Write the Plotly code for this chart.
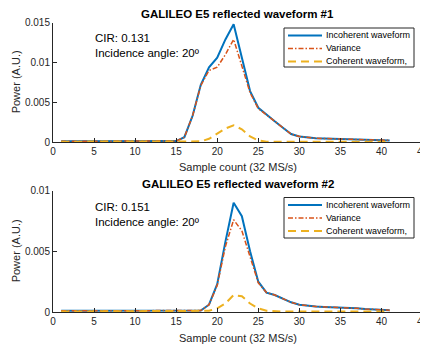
import plotly.graph_objects as go

# The page body has an 8px margin, so the figure covers window pixels 8..428 x 8..345
OFF = 8
W, H = 428 - OFF, 345 - OFF

samples = list(range(1, 42))

# Waveform #1
incoh1 = [0.0001]*14 + [0.00012, 0.0006, 0.0033, 0.0072, 0.0094, 0.0106, 0.0129, 0.0148, 0.0107, 0.0064,
          0.0043, 0.0034, 0.0026, 0.0018, 0.0010, 0.0007, 0.00055, 0.00048, 0.00044, 0.0004, 0.00038,
          0.00035, 0.00032, 0.0003, 0.00027, 0.00024, 0.0002]
var1 = [0.0001]*14 + [0.00012, 0.0006, 0.0033, 0.0071, 0.0090, 0.0094, 0.0110, 0.0129, 0.0097, 0.0062,
        0.0042, 0.0034, 0.0026, 0.0018, 0.0010, 0.0007, 0.00055, 0.00048, 0.00044, 0.0004, 0.00038,
        0.00035, 0.00032, 0.0003, 0.00027, 0.00024, 0.0002]
coh1 = [0.00004]*17 + [0.00008, 0.0004, 0.0011, 0.0017, 0.0021, 0.0016, 0.0007, 0.0002] + [0.00004]*16

# Waveform #2
incoh2 = [0.0001]*17 + [0.00012, 0.0006, 0.0023, 0.0058, 0.0090, 0.0079, 0.0050, 0.0025, 0.0016,
          0.0014, 0.0011, 0.0008, 0.0006, 0.0005, 0.00045, 0.00042, 0.0004, 0.00038, 0.00033, 0.0003,
          0.00025, 0.0002, 0.00018, 0.00015]
var2 = [0.0001]*17 + [0.00012, 0.0006, 0.0022, 0.0054, 0.0076, 0.0067, 0.0045, 0.0024, 0.0016,
        0.0014, 0.0011, 0.0008, 0.0006, 0.0005, 0.00045, 0.00042, 0.0004, 0.00038, 0.00033, 0.0003,
        0.00025, 0.0002, 0.00018, 0.00015]
coh2 = [0.00004]*18 + [0.0001, 0.0003, 0.0007, 0.0014, 0.0013, 0.0007, 0.0003, 0.0001] + [0.00004]*15

series_names = ["Incoherent waveform", "Variance", "Coherent waveform,"]
titles = ["GALILEO E5 reflected waveform #1", "GALILEO E5 reflected waveform #2"]
cir_texts = ["CIR: 0.131<br>Incidence angle: 20º", "CIR: 0.151<br>Incidence angle: 20º"]
x_ticks = [0, 5, 10, 15, 20, 25, 30, 35, 40, 45]
y1_ticks = [0, 0.005, 0.01, 0.015]
y1_labels = ["0", "0.005", "0.01", "0.015"]
y2_ticks = [0, 0.005, 0.01]
y2_labels = ["0", "0.005", "0.01"]

colors = ["#0072BD", "#D95319", "#EDB120"]
dashes = ["solid", "5px,2px,1.5px,2px", "8px,5px"]
widths = [2, 1.5, 2]
FONT = "Liberation Sans, Arial, sans-serif"
TXT = "#262626"

def px(xp):
    return (xp - OFF) / W

def py(yp):
    return 1 - (yp - OFF) / H

fig = go.Figure()

data = [(incoh1, var1, coh1), (incoh2, var2, coh2)]
for i, triple in enumerate(data):
    xa = "x" if i == 0 else "x2"
    ya = "y" if i == 0 else "y2"
    for j, ys in enumerate(triple):
        fig.add_trace(go.Scatter(x=samples, y=ys, mode="lines", xaxis=xa, yaxis=ya,
                                 line=dict(color=colors[j], width=widths[j], dash=dashes[j]),
                                 showlegend=False, hoverinfo="skip"))

# plot area geometry in window pixels
x_left, x_right = 53, 422.5
areas = [(22.7, 142.0), (190.7, 312.0)]

axis_common = dict(showline=True, linecolor=TXT, linewidth=1, ticks="inside", ticklen=4,
                   tickcolor=TXT, showgrid=False, zeroline=False, automargin=False,
                   ticklabeloverflow="allow",
                   tickfont=dict(family=FONT, size=10, color=TXT))

fig.update_layout(
    template="none",
    width=W, height=H, margin=dict(l=0, r=0, t=0, b=0, pad=0, autoexpand=False),
    paper_bgcolor="white", plot_bgcolor="white", showlegend=False,
    xaxis=dict(domain=[px(x_left), px(x_right)], range=[0, 45], tickvals=x_ticks, anchor="y", **axis_common),
    yaxis=dict(domain=[py(areas[0][1]), py(areas[0][0])], range=[0, 0.015], tickvals=y1_ticks,
               ticktext=y1_labels, anchor="x", **axis_common),
    xaxis2=dict(domain=[px(x_left), px(x_right)], range=[0, 45], tickvals=x_ticks, anchor="y2", **axis_common),
    yaxis2=dict(domain=[py(areas[1][1]), py(areas[1][0])], range=[0, 0.01], tickvals=y2_ticks,
                ticktext=y2_labels, anchor="x2", **axis_common),
)

ann = []
shapes = []
title_y = [14, 183.5]
xlabel_y = [167, 337.5]
cir_y = [30, 199]
legend_boxes = [(284, 28, 414, 67), (284, 197.5, 414, 238)]
for i in range(2):
    top, bot = areas[i]
    ann.append(dict(text="<b>%s</b>" % titles[i], x=px((x_left + x_right) / 2), y=py(title_y[i]),
                    xref="paper", yref="paper", showarrow=False, xanchor="center", yanchor="middle",
                    font=dict(family=FONT, size=11.5, color="black")))
    ann.append(dict(text="Sample count (32 MS/s)", x=px((x_left + x_right) / 2), y=py(xlabel_y[i]),
                    xref="paper", yref="paper", showarrow=False, xanchor="center", yanchor="middle",
                    font=dict(family=FONT, size=11, color=TXT)))
    ann.append(dict(text="Power (A.U.)", x=px(16), y=py((top + bot) / 2), textangle=-90,
                    xref="paper", yref="paper", showarrow=False, xanchor="center", yanchor="middle",
                    font=dict(family=FONT, size=11, color=TXT)))
    ann.append(dict(text=cir_texts[i], x=px(93), y=py(cir_y[i]), align="left",
                    xref="paper", yref="paper", showarrow=False, xanchor="left", yanchor="top",
                    font=dict(family=FONT, size=11.5, color="black")))
    bx0, by0, bx1, by1 = legend_boxes[i]
    shapes.append(dict(type="rect", xref="paper", yref="paper", x0=px(bx0), x1=px(bx1),
                       y0=py(by1), y1=py(by0), line=dict(color=TXT, width=1), fillcolor="white", layer="above"))
    rows = [by0 + 7.5, by0 + 20.5, by0 + 33.5]
    for j, name in enumerate(series_names):
        shapes.append(dict(type="line", xref="paper", yref="paper", x0=px(bx0 + 4), x1=px(bx0 + 38),
                           y0=py(rows[j]), y1=py(rows[j]), layer="above",
                           line=dict(color=colors[j], width=widths[j], dash=dashes[j])))
        ann.append(dict(text=name, x=px(bx0 + 40), y=py(rows[j]), xref="paper", yref="paper",
                        showarrow=False, xanchor="left", yanchor="middle",
                        font=dict(family=FONT, size=9, color="black")))

fig.update_layout(annotations=ann, shapes=shapes)
fig.write_html("out.html")
